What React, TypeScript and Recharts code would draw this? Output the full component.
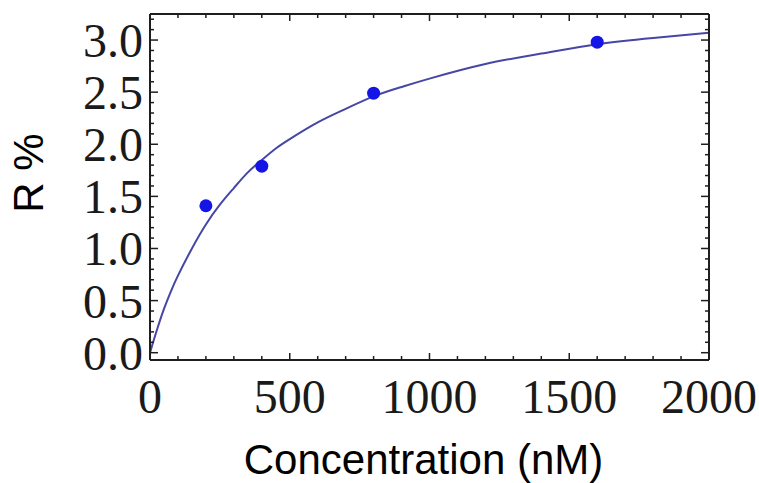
import React from "react";
import { ComposedChart, Line, Scatter, XAxis, YAxis } from "recharts";

// fitted binding curve
const curveConc = [0, 10, 25, 50, 75, 100, 150, 200, 250, 300, 350, 400, 450, 500, 600, 700, 800, 900, 1000, 1200, 1400, 1600, 1800, 2000];
const curveR = [0, 0.09, 0.22, 0.42, 0.59, 0.74, 1.0, 1.23, 1.42, 1.58, 1.73, 1.85, 1.96, 2.05, 2.21, 2.34, 2.46, 2.55, 2.63, 2.77, 2.87, 2.96, 3.02, 3.07];

// measured points
const pointConc = [200, 400, 800, 1600];
const pointR = [1.41, 1.79, 2.49, 2.98];

// ticks (Mathematica style frame: majors labelled, minors inward)
const xTicks = [0, 100, 200, 300, 400, 500, 600, 700, 800, 900, 1000, 1100, 1200, 1300, 1400, 1500, 1600, 1700, 1800, 1900, 2000];
const xMajor = [0, 500, 1000, 1500, 2000];
const yTicks = [
  0, 0.1, 0.2, 0.3, 0.4, 0.5, 0.6, 0.7, 0.8, 0.9, 1.0, 1.1, 1.2, 1.3, 1.4, 1.5, 1.6,
  1.7, 1.8, 1.9, 2.0, 2.1, 2.2, 2.3, 2.4, 2.5, 2.6, 2.7, 2.8, 2.9, 3.0, 3.1, 3.2,
];
const yMajor = [0, 0.5, 1.0, 1.5, 2.0, 2.5, 3.0];

const curveData = curveConc.map((x, i) => ({ x, r: curveR[i] }));
const pointData = pointConc.map((x, i) => ({ x, r: pointR[i] }));

const frame = "#1e1e1e";
const serif = "'Liberation Serif', 'DejaVu Serif', serif";
const sans = "'Liberation Sans', Arial, sans-serif";

const isMajor = (list: number[], v: number) => list.some((m) => Math.abs(m - v) < 1e-6);

const BottomTick = ({ x, y, payload }: any) => {
  const major = isMajor(xMajor, payload.value);
  return (
    <g>
      <line x1={x} y1={y} x2={x} y2={y - (major ? 7 : 4)} stroke={frame} strokeWidth={1.5} />
      {major && (
        <text x={x} y={y + 53} textAnchor="middle" fontFamily={serif} fontSize={48} fill="#1a1a1a">
          {payload.value}
        </text>
      )}
    </g>
  );
};

const TopTick = ({ x, y, payload }: any) => {
  const major = isMajor(xMajor, payload.value);
  return <line x1={x} y1={y} x2={x} y2={y + (major ? 7 : 4)} stroke={frame} strokeWidth={1.5} />;
};

const LeftTick = ({ x, y, payload }: any) => {
  const major = isMajor(yMajor, payload.value);
  return (
    <g>
      <line x1={x} y1={y} x2={x + (major ? 8 : 4)} y2={y} stroke={frame} strokeWidth={1.5} />
      {major && (
        <text x={x - 7} y={y + 17} textAnchor="end" fontFamily={serif} fontSize={48} fill="#1a1a1a">
          {payload.value.toFixed(1)}
        </text>
      )}
    </g>
  );
};

const RightTick = ({ x, y, payload }: any) => {
  const major = isMajor(yMajor, payload.value);
  return <line x1={x} y1={y} x2={x - (major ? 8 : 4)} y2={y} stroke={frame} strokeWidth={1.5} />;
};

const XTitle = ({ viewBox }: any) => (
  <text
    x={viewBox.x + viewBox.width / 2 - 6}
    y={viewBox.y + 114}
    textAnchor="middle"
    fontFamily={sans}
    fontSize={42}
    fill="#000"
  >
    Concentration (nM)
  </text>
);

const YTitle = ({ viewBox }: any) => {
  const cx = 28;
  const cy = viewBox.y + viewBox.height / 2 - 14;
  return (
    <text
      x={cx}
      y={cy}
      transform={`rotate(-90, ${cx}, ${cy})`}
      textAnchor="middle"
      dominantBaseline="central"
      fontFamily={sans}
      fontSize={42}
      fill="#000"
    >
      R %
    </text>
  );
};

export default function App() {
  return (
    <div style={{ position: "absolute", left: 0, top: 0, width: 759, height: 483, background: "#fff" }}>
      <ComposedChart width={759} height={483} margin={{ top: 13, right: 49, left: 0, bottom: 0 }}>
        <XAxis
          type="number"
          dataKey="x"
          domain={[0, 2000]}
          ticks={xTicks}
          interval={0}
          height={123}
          tickSize={0}
          tickMargin={0}
          tick={<BottomTick />}
          axisLine={{ stroke: frame, strokeWidth: 2 }}
          allowDataOverflow
          label={<XTitle />}
        />
        <XAxis
          xAxisId="top"
          orientation="top"
          type="number"
          dataKey="x"
          domain={[0, 2000]}
          ticks={xTicks}
          interval={0}
          height={1}
          tickSize={0}
          tickMargin={0}
          tick={<TopTick />}
          axisLine={{ stroke: frame, strokeWidth: 2 }}
          allowDataOverflow
        />
        <YAxis
          type="number"
          dataKey="r"
          domain={[-0.07, 3.25]}
          ticks={yTicks}
          interval={0}
          width={150}
          tickSize={0}
          tickMargin={0}
          tick={<LeftTick />}
          axisLine={{ stroke: frame, strokeWidth: 2 }}
          allowDataOverflow
          label={<YTitle />}
        />
        <YAxis
          yAxisId="right"
          orientation="right"
          type="number"
          dataKey="r"
          domain={[-0.07, 3.25]}
          ticks={yTicks}
          interval={0}
          width={1}
          tickSize={0}
          tickMargin={0}
          tick={<RightTick />}
          axisLine={{ stroke: frame, strokeWidth: 2 }}
          allowDataOverflow
        />
        <Line
          data={curveData}
          dataKey="r"
          type="natural"
          stroke="#4646a6"
          strokeWidth={2}
          dot={false}
          activeDot={false}
          isAnimationActive={false}
        />
        <Scatter
          data={pointData}
          dataKey="r"
          fill="#1414e6"
          shape={(p: any) => <circle cx={p.cx} cy={p.cy} r={6.5} fill="#1414e6" />}
          isAnimationActive={false}
        />
      </ComposedChart>
    </div>
  );
}
